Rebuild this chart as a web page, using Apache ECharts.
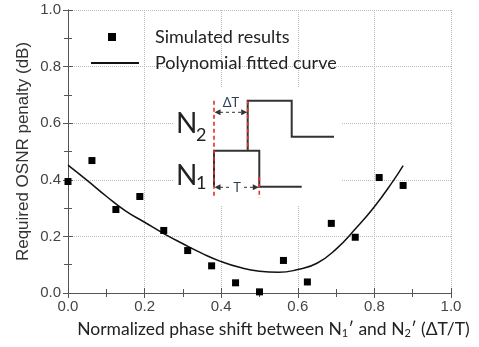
<!DOCTYPE html>
<html>
<head>
<meta charset="utf-8">
<script src="https://cdn.jsdelivr.net/npm/echarts@6/dist/echarts.min.js"></script>
<style>
  html, body { margin: 0; padding: 0; background: #fff; }
  #main { width: 479px; height: 347px; }
</style>
</head>
<body>
<div id="main"></div>
<script>
// simulated points
const ptX = [0, 0.0625, 0.125, 0.1875, 0.25, 0.3125, 0.375, 0.4375, 0.5, 0.5625, 0.625, 0.6875, 0.75, 0.8125, 0.875]
const ptY = [0.394, 0.468, 0.295, 0.341, 0.221, 0.150, 0.096, 0.036, 0.004, 0.115, 0.039, 0.246, 0.197, 0.408, 0.380]
// fitted curve
const cvX = [0, 0.05, 0.1, 0.15, 0.2, 0.25, 0.3, 0.35, 0.4, 0.45, 0.5, 0.55, 0.6, 0.65, 0.7, 0.75, 0.8, 0.85, 0.875]
const cvY = [0.452, 0.398, 0.342, 0.290, 0.250, 0.210, 0.174, 0.140, 0.111, 0.090, 0.077, 0.073, 0.083, 0.105, 0.155, 0.226, 0.305, 0.398, 0.450]
const ticks = [0, 0.2, 0.4, 0.6, 0.8, 1.0]

const scatterData = ptX.map((x, i) => [x, ptY[i]])
const curveData = cvX.map((x, i) => [x, cvY[i]])

const axisCol = '#555'
const labelFont = 'Liberation Sans'
const txtFont = 'Lato'

const chart = echarts.init(document.getElementById('main'))

// inset sketch of the two pulses
const red = { stroke: '#e0302a', lineWidth: 1.6, lineDash: [4, 3] }
const blk = { stroke: '#333', lineWidth: 2, fill: null }
const dash = { stroke: '#333', lineWidth: 1, lineDash: [3, 3] }
const inset = [
  { type: 'rect', shape: { x: 174, y: 87, width: 168, height: 118 }, style: { fill: '#fff' }, z: 1 },
  { type: 'polyline', shape: { points: [[247.7, 150], [247.7, 100.7], [291.7, 100.7], [291.7, 136.7], [334, 136.7]] }, style: blk, z: 2 },
  { type: 'polyline', shape: { points: [[214, 186.7], [214, 150.7], [259.3, 150.7], [259.3, 186.7], [301.7, 186.7]] }, style: blk, z: 2 },
  { type: 'line', shape: { x1: 214, y1: 100.7, x2: 214, y2: 198 }, style: red, z: 3 },
  { type: 'line', shape: { x1: 247.7, y1: 100.7, x2: 247.7, y2: 150 }, style: red, z: 3 },
  { type: 'line', shape: { x1: 259.3, y1: 176.7, x2: 259.3, y2: 198 }, style: red, z: 3 },
  // delta T arrow
  { type: 'line', shape: { x1: 220, y1: 112.3, x2: 242, y2: 112.3 }, style: dash, z: 3 },
  { type: 'polygon', shape: { points: [[214.5, 112.3], [220.5, 109.3], [220.5, 115.3]] }, style: { fill: '#333' }, z: 3 },
  { type: 'polygon', shape: { points: [[247.2, 112.3], [241.2, 109.3], [241.2, 115.3]] }, style: { fill: '#333' }, z: 3 },
  { type: 'text', x: 231, y: 103, style: { text: 'ΔT', font: '13px Lato', fill: '#2f3f5a', align: 'center', verticalAlign: 'middle' }, z: 4 },
  // T arrow
  { type: 'line', shape: { x1: 220, y1: 187.3, x2: 253, y2: 187.3 }, style: dash, z: 3 },
  { type: 'polygon', shape: { points: [[214.5, 187.3], [220.5, 184.3], [220.5, 190.3]] }, style: { fill: '#333' }, z: 3 },
  { type: 'polygon', shape: { points: [[258.8, 187.3], [252.8, 184.3], [252.8, 190.3]] }, style: { fill: '#333' }, z: 3 },
  { type: 'text', x: 237, y: 187.5, style: { text: 'T', font: '13px Lato', fill: '#2f3f5a', align: 'center', verticalAlign: 'middle', backgroundColor: '#fff', padding: [0, 3] }, z: 4 },
  // labels
  { type: 'text', x: 176, y: 124, style: { text: 'N', font: '28px Lato', fill: '#222', align: 'left', verticalAlign: 'middle' }, z: 4 },
  { type: 'text', x: 196, y: 135, style: { text: '2', font: '18px Lato', fill: '#222', align: 'left', verticalAlign: 'middle' }, z: 4 },
  { type: 'text', x: 176, y: 176, style: { text: 'N', font: '28px Lato', fill: '#222', align: 'left', verticalAlign: 'middle' }, z: 4 },
  { type: 'text', x: 196, y: 183, style: { text: '1', font: '18px Lato', fill: '#222', align: 'left', verticalAlign: 'middle' }, z: 4 }
]

const option = {
  animation: false,
  backgroundColor: '#fff',
  grid: { left: 68, right: 28, top: 10, bottom: 54 },
  legend: [
    {
      data: [{ name: 'Simulated results', icon: 'rect' }],
      left: 103, top: 23,
      itemWidth: 8, itemHeight: 8,
      textStyle: { fontFamily: txtFont, fontSize: 18, color: '#222', padding: [0, 0, 0, 34] }
    },
    {
      data: [{ name: 'Polynomial fitted curve', icon: 'rect' }],
      left: 86, top: 49,
      itemWidth: 48, itemHeight: 2,
      textStyle: { fontFamily: txtFont, fontSize: 18, color: '#222', padding: [0, 0, 0, 11] }
    }
  ],
  xAxis: [
    {
      type: 'value', min: 0, max: 1, interval: 0.2, position: 'bottom',
      axisLine: { lineStyle: { color: axisCol, width: 1 } },
      axisTick: { inside: true, length: 5, lineStyle: { color: axisCol } },
      minorTick: { show: true, splitNumber: 2, length: 4, lineStyle: { color: axisCol } },
      splitLine: { show: true, lineStyle: { type: 'dotted', color: '#bbb' } },
      axisLabel: { formatter: v => v.toFixed(1), fontFamily: labelFont, fontSize: 15, color: '#444', margin: 6 },
      name: '{a|Normalized phase shift between N}{s|1}{a|′ and N}{s|2}{a|′ (ΔT/T)}',
      nameLocation: 'middle', nameGap: 27, nameMoveOverlap: false,
      nameTextStyle: {
        padding: [0, 0, 0, 28],
        rich: {
          a: { fontFamily: txtFont, fontSize: 17.5, color: '#222' },
          s: { fontFamily: txtFont, fontSize: 11, color: '#222', verticalAlign: 'bottom', padding: [8, 0, 0, 0] }
        }
      }
    },
    {
      type: 'value', min: 0, max: 1, interval: 0.2, position: 'top',
      axisLine: { show: true, lineStyle: { color: axisCol, width: 1 } },
      axisTick: { inside: true, length: 5, lineStyle: { color: axisCol } },
      minorTick: { show: true, splitNumber: 2, length: 4, lineStyle: { color: axisCol } },
      splitLine: { show: false },
      axisLabel: { show: false }
    }
  ],
  yAxis: [
    {
      type: 'value', min: 0, max: 1, interval: 0.2, position: 'left',
      axisLine: { show: true, lineStyle: { color: axisCol, width: 1 } },
      axisTick: { show: true, inside: true, length: 5, lineStyle: { color: axisCol } },
      minorTick: { show: true, splitNumber: 2, length: 4, lineStyle: { color: axisCol } },
      splitLine: { show: true, lineStyle: { type: 'dotted', color: '#bbb' } },
      axisLabel: { formatter: v => v.toFixed(1), fontFamily: labelFont, fontSize: 15, color: '#444', margin: 7 },
      name: 'Required OSNR penalty (dB)',
      nameLocation: 'middle', nameGap: 36, nameMoveOverlap: false,
      nameTextStyle: { fontFamily: labelFont, fontSize: 17, color: '#333' }
    },
    {
      type: 'value', min: 0, max: 1, interval: 0.2, position: 'right',
      axisLine: { show: true, lineStyle: { color: axisCol, width: 1 } },
      axisTick: { show: true, inside: true, length: 5, lineStyle: { color: axisCol } },
      minorTick: { show: true, splitNumber: 2, length: 4, lineStyle: { color: axisCol } },
      splitLine: { show: false },
      axisLabel: { show: false }
    }
  ],
  series: [
    {
      name: 'Simulated results',
      type: 'scatter',
      symbol: 'rect',
      symbolSize: 7,
      itemStyle: { color: '#000', opacity: 1 },
      data: scatterData,
      z: 5
    },
    {
      name: 'Polynomial fitted curve',
      type: 'line',
      smooth: true,
      symbol: 'none',
      lineStyle: { color: '#111', width: 1.5 },
      itemStyle: { color: '#111' },
      data: curveData,
      z: 4
    }
  ],
  graphic: { elements: inset }
}

chart.setOption(option)
</script>
</body>
</html>
